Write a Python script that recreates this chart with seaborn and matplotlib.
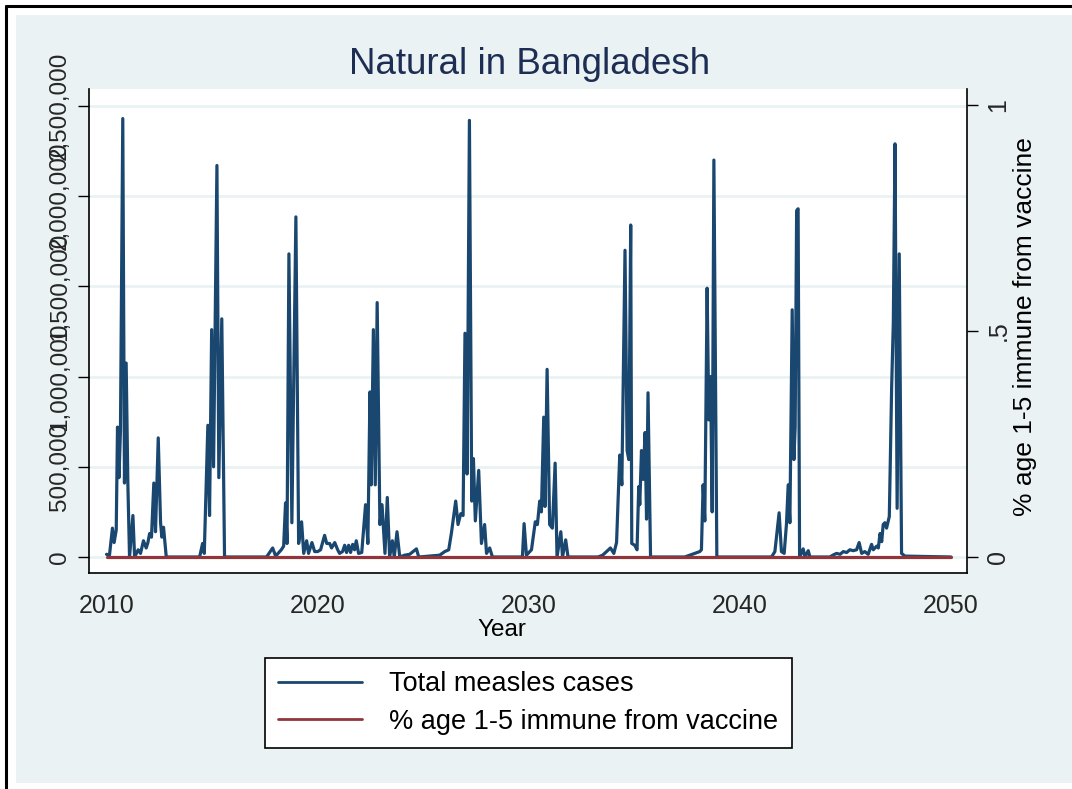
import matplotlib
matplotlib.use("Agg")
import matplotlib.pyplot as plt
import seaborn as sns
import pandas as pd
from matplotlib.patches import Rectangle
from matplotlib.lines import Line2D

# ---------------- data ----------------
year = [
    # 2010-2013 outbreak
    2010.00, 2010.14, 2010.28, 2010.36, 2010.46, 2010.52, 2010.59, 2010.66, 2010.77, 2010.85,
    2010.93, 2011.01, 2011.09, 2011.25, 2011.33, 2011.50, 2011.61, 2011.75, 2011.88, 2011.96,
    2012.04, 2012.13, 2012.24, 2012.32, 2012.45, 2012.56, 2012.62, 2012.70, 2012.83,
    # 2014-2015
    2014.41, 2014.55, 2014.63, 2014.80, 2014.88, 2014.98, 2015.07, 2015.23, 2015.32, 2015.46,
    2015.59,
    # 2017-2019
    2017.58, 2017.87, 2018.01, 2018.28, 2018.39, 2018.48, 2018.55, 2018.64, 2018.78, 2018.97,
    2019.10, 2019.24, 2019.34, 2019.48, 2019.57, 2019.73, 2019.86,
    # 2020-2024
    2020.00, 2020.14, 2020.33, 2020.43, 2020.57, 2020.66, 2020.81, 2020.95, 2021.04, 2021.18,
    2021.28, 2021.37, 2021.47, 2021.56, 2021.66, 2021.75, 2021.83, 2021.94, 2022.09, 2022.27,
    2022.38, 2022.48, 2022.54, 2022.64, 2022.73, 2022.82, 2022.95, 2023.05, 2023.19, 2023.30,
    2023.41, 2023.54, 2023.63, 2023.76, 2023.89, 2024.12, 2024.36, 2024.68, 2024.79,
    # 2025-2028
    2025.78, 2026.02, 2026.21, 2026.34, 2026.54, 2026.65, 2026.78, 2026.89, 2026.98, 2027.08,
    2027.19, 2027.30, 2027.38, 2027.47, 2027.63, 2027.76, 2027.91, 2028.00, 2028.15, 2028.28,
    # 2029-2032
    2029.43, 2029.70, 2029.78, 2029.89, 2030.13, 2030.31, 2030.41, 2030.52, 2030.60, 2030.71,
    2030.77, 2030.87, 2030.99, 2031.12, 2031.25, 2031.34, 2031.52, 2031.60, 2031.75, 2031.86,
    # 2033-2036
    2033.28, 2033.50, 2033.87, 2034.03, 2034.16, 2034.31, 2034.41, 2034.56, 2034.66, 2034.74,
    2034.83, 2034.88, 2035.02, 2035.13, 2035.21, 2035.26, 2035.34, 2035.42, 2035.51, 2035.58,
    2035.65, 2035.77,
    # 2037-2039
    2037.39, 2037.63, 2038.10, 2038.18, 2038.26, 2038.34, 2038.45, 2038.53, 2038.61, 2038.69,
    2038.77, 2038.91,
    # 2041-2043
    2041.50, 2041.66, 2041.86, 2041.97, 2042.10, 2042.21, 2042.29, 2042.37, 2042.48, 2042.56,
    2042.62, 2042.69, 2042.76, 2042.83, 2043.00, 2043.08, 2043.24, 2043.32,
    # 2044-2050
    2044.27, 2044.40, 2044.58, 2044.75, 2044.90, 2045.06, 2045.21, 2045.37, 2045.53, 2045.65,
    2045.77, 2045.92, 2046.08, 2046.24, 2046.32, 2046.48, 2046.56, 2046.64, 2046.72, 2046.79,
    2046.87, 2046.95, 2047.08, 2047.19, 2047.27, 2047.35, 2047.45, 2047.55, 2047.66, 2047.82,
    2050.00,
]
cases_thousands = [
    # 2010-2013 outbreak
    15, 10, 160, 80, 150, 720, 440, 700, 2430, 410,
    1075, 410, 0, 230, 0, 40, 20, 90, 50, 80,
    130, 110, 410, 140, 660, 190, 110, 165, 0,
    # 2014-2015
    0, 75, 20, 730, 230, 1260, 500, 2170, 440, 1320,
    0,
    # 2017-2019
    0, 50, 5, 40, 60, 300, 75, 1680, 190, 1885,
    75, 195, 20, 90, 20, 80, 30,
    # 2020-2024
    30, 40, 120, 75, 75, 50, 80, 40, 20, 30,
    65, 25, 65, 25, 70, 40, 90, 20, 25, 290,
    75, 915, 400, 1260, 400, 1410, 180, 290, 20, 330,
    0, 90, 0, 140, 0, 10, 15, 45, 0,
    # 2025-2028
    10, 30, 40, 135, 310, 180, 240, 230, 1240, 460,
    2420, 310, 545, 200, 480, 75, 180, 20, 50, 0,
    # 2029-2032
    0, 0, 185, 10, 40, 195, 180, 310, 250, 775,
    280, 1040, 180, 160, 520, 0, 140, 0, 95, 0,
    # 2033-2036
    0, 10, 50, 20, 80, 565, 400, 1700, 590, 540,
    1840, 75, 65, 40, 390, 290, 590, 430, 690, 210,
    910, 0,
    # 2037-2039
    0, 10, 30, 40, 400, 200, 1490, 760, 1000, 250,
    2200, 0,
    # 2041-2043
    0, 30, 245, 30, 20, 185, 400, 190, 1370, 540,
    720, 1920, 1930, 0, 45, 0, 35, 0,
    # 2044-2050
    0, 10, 20, 15, 30, 25, 40, 35, 40, 80,
    20, 30, 15, 70, 40, 60, 50, 130, 85, 180,
    190, 160, 225, 940, 1300, 2290, 270, 1680, 20, 5,
    0,
]
vaccine_year = [2010.0, 2050.0]
vaccine_share = [0.0, 0.0]

left_ticks = [0, 500000, 1000000, 1500000, 2000000, 2500000]
left_labels = ["0", "500,000", "1,000,000", "1,500,000", "2,000,000", "2,500,000"]
right_ticks = [0, 0.5, 1]
right_labels = ["0", ".5", "1"]
x_ticks = [2010, 2020, 2030, 2040, 2050]

title = "Natural in Bangladesh"
xlabel = "Year"
ylabel_right = "% age 1-5 immune from vaccine"
label_cases = "Total measles cases"
label_vacc = "% age 1-5 immune from vaccine"

# ---------------- styling ----------------
NAVY = "#1A476F"
MAROON = "#90353B"
BG = "#EAF2F3"
TITLE_C = "#1E2D53"

sns.set_style("white")
plt.rcParams["font.family"] = ["Liberation Sans", "DejaVu Sans"]

W, H = 1072, 789
fig = plt.figure(figsize=(W / 100, H / 100), dpi=100)
fig.patch.set_facecolor("white")

# background region and partial outer frame
fig.patches.append(Rectangle((16 / W, 1 - 783 / H), (W - 16) / W, (783 - 15) / H,
                             transform=fig.transFigure, facecolor=BG, edgecolor="none",
                             zorder=-10))
fig.lines.append(Line2D([6 / W, 1], [1 - 6 / H, 1 - 6 / H], transform=fig.transFigure,
                        color="black", lw=2.2, zorder=-9))
fig.lines.append(Line2D([6 / W, 6 / W], [0, 1 - 6 / H], transform=fig.transFigure,
                        color="black", lw=2.2, zorder=-9))

ax = fig.add_axes([89 / W, 1 - 573 / H, (967 - 89) / W, (573 - 89) / H])
ax.set_facecolor("white")

df = pd.DataFrame({"year": year, "cases": [c * 1000 for c in cases_thousands]})
dv = pd.DataFrame({"year": vaccine_year, "share": vaccine_share})

sns.lineplot(data=df, x="year", y="cases", ax=ax, color=NAVY, lw=2.3,
             sort=False, estimator=None, zorder=3)

ax.set_xlim(2009.17, 2050.76)
ax.set_ylim(-88700, 2594000)
ax.set_yticks(left_ticks)
ax.set_yticklabels(left_labels, rotation=90, va="center", fontsize=17.5)
ax.set_xticks(x_ticks)
ax.set_xticklabels([str(t) for t in x_ticks], fontsize=18)
ax.tick_params(axis="both", direction="out", length=8, width=1, color="black", pad=5)
ax.tick_params(axis="x", pad=7)
ax.grid(axis="y", color=BG, lw=2)
ax.grid(axis="x", visible=False)
ax.set_xlabel("")
ax.set_ylabel("")
for s in ["left", "bottom"]:
    ax.spines[s].set_color("black")
    ax.spines[s].set_linewidth(1.2)
ax.spines["top"].set_visible(False)
ax.spines["right"].set_visible(False)

ax2 = ax.twinx()
sns.lineplot(data=dv, x="year", y="share", ax=ax2, color=MAROON, lw=2.3,
             sort=False, estimator=None, zorder=4)
ax2.set_ylim(-0.0355, 1.0355)
ax2.set_yticks(right_ticks)
ax2.set_yticklabels(right_labels, rotation=90, va="center", fontsize=18)
ax2.tick_params(axis="y", direction="out", length=8, width=1, color="black", pad=6)
ax2.set_ylabel("")
ax2.set_xlabel("")
ax2.spines["right"].set_color("black")
ax2.spines["right"].set_linewidth(1.2)
ax2.spines["top"].set_visible(False)
ax2.spines["left"].set_visible(False)
ax2.spines["bottom"].set_visible(False)
ax2.grid(False)

fig.text(530 / W, 1 - 64 / H, title, ha="center", va="center", fontsize=26.5, color=TITLE_C)
fig.text(502 / W, 1 - 630 / H, xlabel, ha="center", va="center", fontsize=17.5, color="black")
fig.text(1025 / W, 1 - 327 / H, ylabel_right, ha="center", va="center", rotation=90,
         fontsize=19, color="black")

handles = [Line2D([], [], color=NAVY, lw=2), Line2D([], [], color=MAROON, lw=2)]
leg = fig.legend(handles, [label_cases, label_vacc], loc="center",
                 bbox_to_anchor=(528.5 / W, 1 - 703 / H), fontsize=19.5, frameon=True,
                 fancybox=False, edgecolor="black", facecolor="white", framealpha=1,
                 handlelength=3.1, handletextpad=1.0, labelspacing=0.42, borderpad=0.5,
                 borderaxespad=0)
leg.get_frame().set_linewidth(1.2)
for t in leg.get_texts():
    t.set_color("black")

fig.savefig("out.png", dpi=100, facecolor="white")
